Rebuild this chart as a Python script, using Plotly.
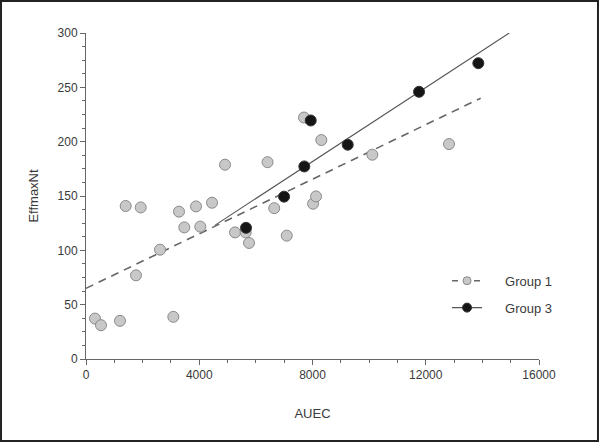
import plotly.graph_objects as go

# ---- data ----
g1_x = [318, 530, 1201, 1402, 1766, 1932, 2614, 3084, 3285, 3472, 3886, 4037, 4451,
        4910, 5263, 5641, 5758, 6412, 6648, 7090, 7700, 8020, 8125, 8312, 10113, 12822]
g1_y = [37.2, 31.1, 35.1, 140.8, 77.0, 139.5, 100.6, 38.8, 135.6, 121.1, 140.4, 121.8, 143.8,
        178.8, 116.5, 116.5, 106.8, 181.1, 138.8, 113.5, 222.2, 142.9, 149.6, 201.5, 188.0, 197.8]

g3_x = [5652, 6995, 7711, 7937, 9244, 11763, 13857]
g3_y = [120.7, 149.4, 177.2, 219.5, 197.2, 245.9, 272.2]

g1_fit_x = [0, 13940]
g1_fit_y = [65, 240]
g3_fit_x = [4550, 14950]
g3_fit_y = [123, 300]

x_ticks = [0, 4000, 8000, 12000, 16000]
y_ticks = [0, 50, 100, 150, 200, 250, 300]

FONT = "Liberation Sans, Arial, sans-serif"
TXT = "#3a3a3a"
AX = "#666666"

g1_marker = dict(size=11, color="#c8c8c8", line=dict(color="#8a8a8a", width=1))
g3_marker = dict(size=11, color="#151515", line=dict(color="#333333", width=1))

fig = go.Figure()

fig.add_trace(go.Scatter(x=g1_fit_x, y=g1_fit_y, mode="lines",
                         line=dict(color="#666666", width=1.6, dash="8px,6px"),
                         showlegend=False, hoverinfo="skip"))
fig.add_trace(go.Scatter(x=g3_fit_x, y=g3_fit_y, mode="lines",
                         line=dict(color="#555555", width=1.1),
                         showlegend=False, hoverinfo="skip"))
fig.add_trace(go.Scatter(x=g1_x, y=g1_y, mode="markers", marker=g1_marker,
                         showlegend=False))
fig.add_trace(go.Scatter(x=g3_x, y=g3_y, mode="markers", marker=g3_marker,
                         showlegend=False))

# legend entries
nb = "\u00a0" * 5
fig.add_trace(go.Scatter(x=[None], y=[None], mode="lines+markers", name=nb + "Group 1",
                         legendgroup="a",
                         line=dict(color="#666666", width=1.6, dash="6px,5px"),
                         marker=dict(size=8, color="#c8c8c8", line=dict(color="#8a8a8a", width=1))))
fig.add_trace(go.Scatter(x=[None], y=[None], mode="lines+markers", name=nb + "Group 3",
                         legendgroup="b",
                         line=dict(color="#555555", width=1.1),
                         marker=dict(size=9, color="#151515", line=dict(color="#333333", width=1))))

fig.update_layout(
    width=600, height=443,
    margin=dict(l=86, r=61, t=33, b=84),
    paper_bgcolor="white", plot_bgcolor="white",
    font=dict(family=FONT, size=12, color=TXT),
    showlegend=True,
    legend=dict(x=0.797, y=0.286, xanchor="left", yanchor="top",
                bgcolor="rgba(0,0,0,0)", borderwidth=0,
                font=dict(family=FONT, size=13, color=TXT),
                tracegroupgap=7),
    xaxis=dict(range=[0, 16000], tickmode="array", tickvals=x_ticks,
               ticktext=[str(v) for v in x_ticks],
               showgrid=False, zeroline=False, showline=True, linecolor=AX, linewidth=1,
               ticks="outside", ticklen=5, tickcolor=AX, tickwidth=1,
               minor=dict(dtick=1000, ticks="outside", ticklen=3, tickcolor=AX, showgrid=False),
               tickfont=dict(family=FONT, size=12, color=TXT),
               title=dict(text="AUEC", font=dict(family=FONT, size=13, color=TXT), standoff=27)),
    yaxis=dict(range=[0, 300], tickmode="array", tickvals=y_ticks,
               ticktext=[str(v) for v in y_ticks],
               showgrid=False, zeroline=False, showline=True, linecolor=AX, linewidth=1,
               ticks="outside", ticklen=5, tickcolor=AX, tickwidth=1,
               minor=dict(dtick=12.5, ticks="outside", ticklen=3, tickcolor=AX, showgrid=False),
               tickfont=dict(family=FONT, size=12, color=TXT),
               title=dict(text="EffmaxNt", font=dict(family=FONT, size=13, color=TXT), standoff=16)),
    shapes=[dict(type="rect", xref="paper", yref="paper",
                 x0=-0.1876, x1=1.1302, y0=-0.2515, y1=1.0982,
                 line=dict(color="#222222", width=2), fillcolor="rgba(0,0,0,0)")],
)

fig.write_html("out.html", config={"displayModeBar": False},
               post_script="document.body.style.margin='0';document.body.style.overflow='hidden';")
